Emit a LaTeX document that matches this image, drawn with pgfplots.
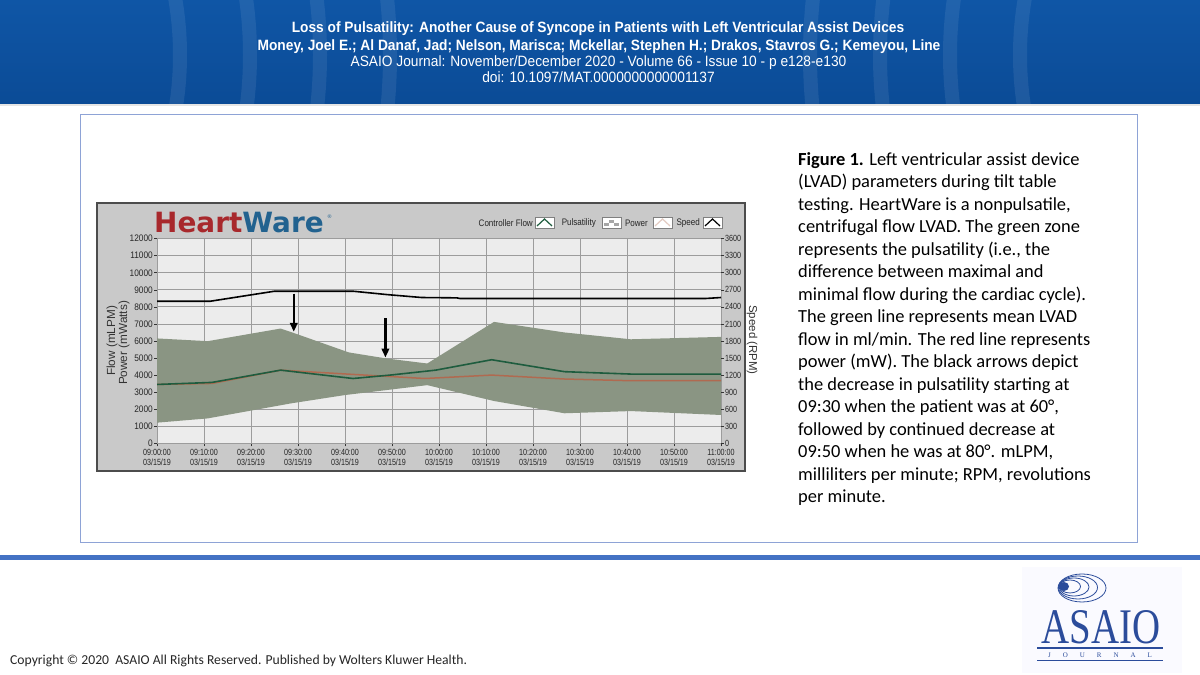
\documentclass[border=0pt]{standalone}
\usepackage{fontspec}
\usepackage{pgfplots}
\usepackage{pgfplotstable}
\pgfplotsset{compat=1.18}
\usetikzlibrary{arrows.meta}
\setmainfont{Liberation Sans}
\newfontfamily\hdr[FakeStretch=0.92]{Liberation Sans}
\newfontfamily\cond[FakeStretch=0.85]{Liberation Sans}
\newfontfamily\condx[FakeStretch=0.8]{Liberation Sans}
\newfontfamily\condy[FakeStretch=0.88]{Liberation Sans}
\newfontfamily\calfont{Carlito}
\newfontfamily\logofont{DejaVu Sans}
\newfontfamily\serifff{Liberation Serif}

\definecolor{hdrblue}{HTML}{0F56A6}
\definecolor{hdrdark}{HTML}{0B4B96}
\definecolor{framecol}{HTML}{8EA3D6}
\definecolor{barblue}{HTML}{4472C4}
\definecolor{chartbg}{HTML}{C9C9C9}
\definecolor{plotbg}{HTML}{ECECEC}
\definecolor{gridc}{HTML}{9C9C9C}
\definecolor{bandc}{HTML}{8A9583}
\definecolor{flowc}{HTML}{1E5C3E}
\definecolor{powc}{HTML}{B06A50}
\definecolor{hwred}{HTML}{A8282C}
\definecolor{hwblue}{HTML}{22628F}
\definecolor{asaio}{HTML}{2B4C9B}

% pulsatility band: upper edge left to right, then lower edge right to left
\pgfplotstableread{
t v
0 6150
10.8 5990
26.3 6730
29.4 6440
40.8 5330
48.8 4975
57.5 4680
71.7 7120
86.7 6500
100.8 6100
120 6240
120 1660
100.8 1890
86.7 1760
71.7 2480
57.5 3410
48.8 3120
40 2830
28.5 2340
10.8 1460
0 1210
}\tabband
\pgfplotstableread{
t v
0 3450
11.7 3570
26.3 4290
41.7 3800
49.6 4000
59.3 4290
71.2 4900
86.7 4200
100.8 4060
120 4060
}\tabflow
\pgfplotstableread{
t v
0 3450
11.7 3510
26.3 4290
41.7 4040
57 3800
71.2 4000
86.7 3770
100.8 3670
120 3670
}\tabpower
\pgfplotstableread{
t v
0 2499
11.3 2499
25 2676
41.7 2676
49 2616
56.3 2565
63.8 2559
64.5 2547
116.6 2547
120 2565
}\tabspeed

\begin{document}
\begin{tikzpicture}[x=1bp,y=1bp]
\path[use as bounding box, fill=white] (0,0) rectangle (1200,675);
% header
\begin{scope}
\clip (0,570) rectangle (1200,675);
\shade[top color=hdrblue, bottom color=hdrdark] (0,570) rectangle (1200,675);
\foreach \r in {330,400,470,540}{\draw[white, opacity=0.08, line width=14bp] (-150,620) circle (\r);}
\foreach \r in {330,400,470,540}{\draw[white, opacity=0.08, line width=14bp] (1350,620) circle (\r);}
\end{scope}
\draw[white!80!gray, line width=1.5bp] (0,570) -- (1200,570);
\node[anchor=base, white, font=\hdr\bfseries\fontsize{15}{16}\selectfont, inner sep=0] at (598,642) {Loss of Pulsatility: Another Cause of Syncope in Patients with Left Ventricular Assist Devices};
\node[anchor=base, white, font=\hdr\bfseries\fontsize{15}{16}\selectfont, inner sep=0] at (599,624) {Money, Joel E.; Al Danaf, Jad; Nelson, Marisca; Mckellar, Stephen H.; Drakos, Stavros G.; Kemeyou, Line};
\node[anchor=base, white, font=\hdr\fontsize{15}{16}\selectfont, inner sep=0] at (598.5,608) {ASAIO Journal: November/December 2020 - Volume 66 - Issue 10 - p e128-e130};
\node[anchor=base, white, font=\hdr\fontsize{15}{16}\selectfont, inner sep=0] at (598.5,592) {doi: 10.1097/MAT.0000000000001137};
% frame
\draw[framecol, line width=1bp] (80,560) rectangle (1137,132);
% chart box
\fill[chartbg] (97,472) rectangle (745,204);
\draw[black!70, line width=1.6bp] (97,472) rectangle (745,204);
% HeartWare logo
\node[anchor=base west, inner sep=0, font=\logofont\bfseries\fontsize{28}{30}\selectfont] at (154,442) {\textcolor{hwred}{Heart}\textcolor{hwblue}{Ware}};
\node[anchor=base west, inner sep=0, font=\logofont\fontsize{5}{6}\selectfont, hwblue] at (327,456) {\textregistered};
% legend
\begin{scope}[font=\cond\fontsize{9.5}{10}\selectfont, inner sep=0, black!85]
\node[anchor=east] at (533,452) {Controller Flow};
\node[anchor=east] at (596,452) {Pulsatility};
\node[anchor=east] at (648,452) {Power};
\node[anchor=east] at (700,452) {Speed};
\end{scope}
\foreach \x/\c in {535/flowc,653/powc!35!white,703/black}{
  \fill[white] (\x,447) rectangle ++(19,11);
  \draw[gray, line width=0.5bp] (\x,447) rectangle ++(19,11);
  \draw[\c, line width=1.2bp] (\x+2,449) -- (\x+9.5,456) -- (\x+17,449);
}
\fill[white] (602,447) rectangle ++(19,11);
\draw[gray, line width=0.5bp] (602,447) rectangle ++(19,11);
\fill[gray!70] (604,449) rectangle (609,452);
\fill[gray!70] (609,452) rectangle (614,455);
\fill[gray!70] (614,449) rectangle (619,452);
% axis labels
\node[rotate=90, font=\fontsize{11.8}{12}\selectfont, black!80, inner sep=0] at (112,334) {Flow (mLPM)};
\node[rotate=90, font=\fontsize{11.8}{12}\selectfont, black!80, inner sep=0] at (124,332) {Power (mWatts)};
\node[rotate=-90, font=\fontsize{11.5}{12}\selectfont, black!80, inner sep=0] at (752,335) {Speed (RPM)};
% main axis
\begin{axis}[
  at={(157bp,231.7bp)}, anchor=south west,
  width=564bp, height=204.6bp, scale only axis,
  xmin=0, xmax=120, ymin=0, ymax=12000,
  xtick={0,10,...,120}, ytick={0,1000,...,12000},
  scaled y ticks=false,
  xticklabels={{09:00:00\\03/15/19},{09:10:00\\03/15/19},{09:20:00\\03/15/19},{09:30:00\\03/15/19},{09:40:00\\03/15/19},{09:50:00\\03/15/19},{10:00:00\\03/15/19},{10:10:00\\03/15/19},{10:20:00\\03/15/19},{10:30:00\\03/15/19},{10:40:00\\03/15/19},{10:50:00\\03/15/19},{11:00:00\\03/15/19}},
  xticklabel style={align=center, font=\condx\fontsize{9}{10.5}\selectfont, inner sep=1bp, yshift=-1.5bp, black!85},
  yticklabel style={font=\condy\fontsize{9.5}{10}\selectfont, inner sep=1bp, black!85},
  /pgf/number format/1000 sep={}, /pgf/number format/assume math mode=true,
  grid=major, major grid style={gridc, line width=0.8bp},
  axis background/.style={fill=plotbg},
  axis line style={gridc, line width=0.8bp},
  tick align=outside, major tick length=3bp, tick style={black!80, line width=0.6bp},
  axis y line*=left, axis x line*=bottom,
]
\addplot[fill=bandc, draw=none] table[x=t,y=v] {\tabband} -- cycle;
\addplot[powc, line width=1.5bp] table[x=t,y=v] {\tabpower};
\addplot[flowc, line width=1.6bp] table[x=t,y=v] {\tabflow};
\draw[black, line width=2.3bp, -{Triangle[length=9bp,width=7.5bp]}] (axis cs:29.1,8780) -- (axis cs:29.1,6540);
\draw[black, line width=2.3bp, -{Triangle[length=9bp,width=7.5bp]}] (axis cs:48.6,7320) -- (axis cs:48.6,5030);
\end{axis}
% speed axis
\begin{axis}[
  at={(157bp,231.7bp)}, anchor=south west,
  width=564bp, height=204.6bp, scale only axis,
  xmin=0, xmax=120, ymin=0, ymax=3600,
  ytick={0,300,...,3600},
  scaled y ticks=false,
  axis x line=none, axis y line*=right,
  yticklabel style={font=\condx\fontsize{9}{10}\selectfont, inner sep=1bp, black!85},
  /pgf/number format/1000 sep={}, /pgf/number format/assume math mode=true,
  axis line style={draw=none},
  tick align=outside, major tick length=3bp, tick style={black!80, line width=0.6bp},
]
\addplot[black, line width=1.6bp] table[x=t,y=v] {\tabspeed};
\end{axis}
% caption
\node[anchor=north west, align=left, inner sep=0, font=\calfont\fontsize{18.5}{22.6}\selectfont] at (798,523) {\textbf{Figure 1.} Left ventricular assist device\\
(LVAD) parameters during tilt table\\
testing. HeartWare is a nonpulsatile,\\
centrifugal flow LVAD. The green zone\\
represents the pulsatility (i.e., the\\
difference between maximal and\\
minimal flow during the cardiac cycle).\\
The green line represents mean LVAD\\
flow in ml/min. The red line represents\\
power (mW). The black arrows depict\\
the decrease in pulsatility starting at\\
09:30 when the patient was at 60°,\\
followed by continued decrease at\\
09:50 when he was at 80°. mLPM,\\
milliliters per minute; RPM, revolutions\\
per minute.};
% footer
\fill[barblue] (0,115) rectangle (1200,120);
\node[anchor=base west, inner sep=0, font=\calfont\fontsize{13.7}{16}\selectfont, black!85] at (10,10) {Copyright © 2020 \ ASAIO All Rights Reserved. Published by Wolters Kluwer Health.};
% ASAIO logo
\fill[white!98!blue] (1022,2) rectangle (1182,108);
\begin{scope}[asaio, line width=0.8bp]
\draw (1082,87) ellipse (24 and 14);
\draw (1078,87.5) ellipse (19.5 and 11.5);
\draw (1074,88) ellipse (15 and 9);
\draw (1070,88.5) ellipse (10.5 and 6.5);
\fill (1064,88.5) ellipse (5 and 4.5);
\end{scope}
\node[anchor=base, inner sep=0, asaio, font=\serifff\fontsize{50}{52}\selectfont] at (1101,31) {\scalebox{0.78}[1]{ASAIO}};
\draw[asaio, line width=2bp] (1037,27) -- (1163,27);
\node[anchor=base, inner sep=0, asaio, font=\serifff\fontsize{7}{8}\selectfont] at (1100,17) {J\hspace{12bp}O\hspace{12bp}U\hspace{12bp}R\hspace{12bp}N\hspace{12bp}A\hspace{12bp}L};
\draw[asaio, line width=1bp] (1037,14) -- (1163,14);
\end{tikzpicture}
\end{document}
